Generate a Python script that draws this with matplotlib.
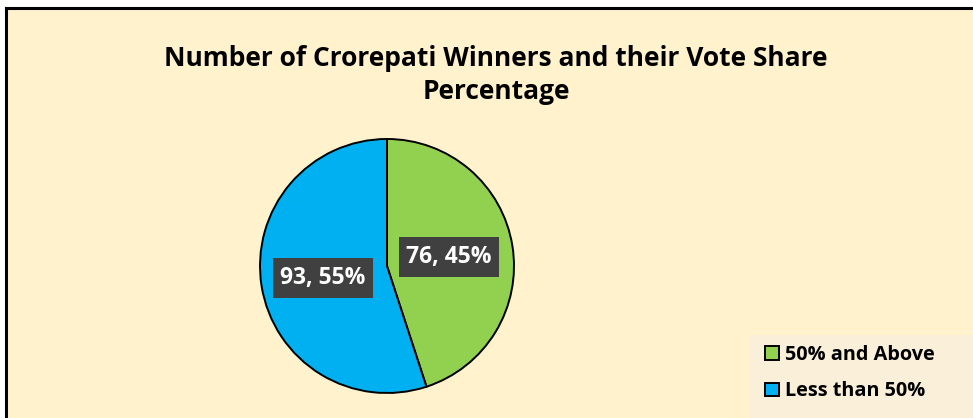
import matplotlib.pyplot as plt
from matplotlib.patches import Rectangle

# data
labels = ["50% and Above", "Less than 50%"]
counts = [76, 93]
shares = [45, 55]
colours = ["#92D050", "#00B0F0"]

W, H = 973, 418
fig = plt.figure(figsize=(W / 100, H / 100), dpi=100)
fig.patch.set_facecolor("white")

plt.rcParams["font.family"] = ["Open Sans", "DejaVu Sans"]

# chart area background with black frame (top and left edge visible)
fig.patches.append(Rectangle((6 / W, 0), 1, 1 - 9 / H, transform=fig.transFigure,
                             facecolor="#FFF2CC", edgecolor="none", zorder=-5))
fig.add_artist(plt.Line2D([6 / W, 6 / W], [0, 1 - 8 / H], color="black", lw=2.2,
                          transform=fig.transFigure, zorder=-4))
fig.add_artist(plt.Line2D([6 / W, 1], [1 - 8 / H, 1 - 8 / H], color="black", lw=2.2,
                          transform=fig.transFigure, zorder=-4))

fig.text(496 / W, 1 - 75 / H, "Number of Crorepati Winners and their Vote Share\nPercentage",
         ha="center", va="center", fontsize=19, fontweight="bold", linespacing=1.25)

# pie axes
cx, cy, r = 387, 266, 127
ax = fig.add_axes([(cx - r) / W, 1 - (cy + r) / H, 2 * r / W, 2 * r / H], zorder=2)
wedges, _ = ax.pie(counts, colors=colours, startangle=90, counterclock=False,
                   wedgeprops=dict(edgecolor="black", linewidth=1.4))
ax.set_xlim(-1, 1)
ax.set_ylim(-1, 1)
ax.set_aspect("auto")
ax.axis("off")

label_pos = [(449, 257), (323, 278)]
for (px, py), n, s in zip(label_pos, counts, shares):
    fig.text(px / W, 1 - py / H, f"{n}, {s}%", ha="center", va="center",
             fontsize=16.5, fontweight="bold", color="white", zorder=5,
             bbox=dict(boxstyle="square,pad=0.33", facecolor="#404040", edgecolor="none"))

# legend
fig.patches.append(Rectangle((750 / W, 0), 223 / W, 83 / H, transform=fig.transFigure,
                             facecolor="#FAF0DA", edgecolor="none", zorder=-3))
leg = fig.legend(wedges, labels, loc="center left", bbox_to_anchor=(747 / W, 1 - 373 / H),
                 frameon=False, prop=dict(size=14.3, weight="bold"), handlelength=0.7,
                 handleheight=0.7, handletextpad=0.3, labelspacing=0.85)

fig.savefig("out.png", dpi=100)
